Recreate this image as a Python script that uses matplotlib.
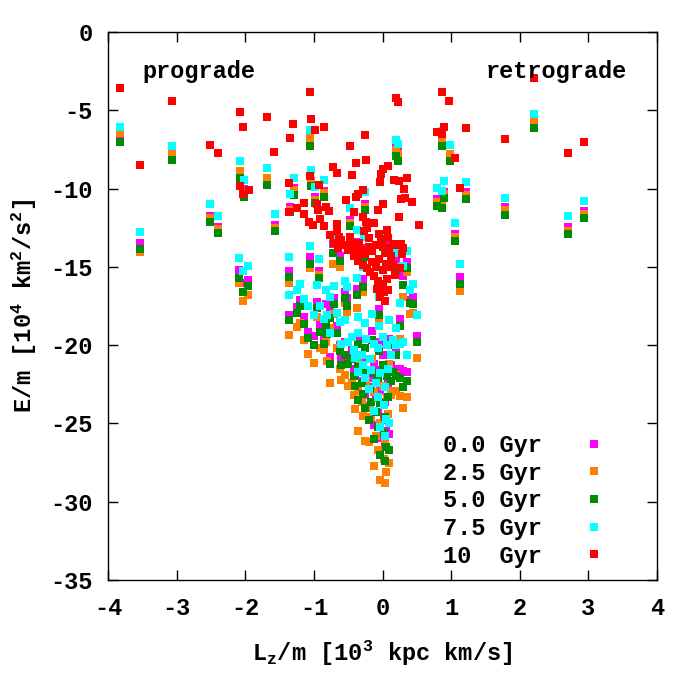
import matplotlib
matplotlib.use('Agg')
import matplotlib.pyplot as plt

# L_z/m per star [10^3 kpc km/s], shared by the 0.0 - 7.5 Gyr snapshots
lz = [-3.82, -3.54, -3.07, -2.52, -2.39, -2.07, -2.02, -1.68, -1.57, -2.09,
      -2.03, -1.96, -1.35, -1.29, -1.36, -1.36, -1.05, -1.04, -1.06, -0.92,
      2.21, 0.87, 0.99, 0.90, 0.80, 0.86, 1.22, 1.78, 2.70, 2.93,
      1.06, 1.13, 0.20, 0.23, -0.85, -0.98, -0.25, -0.47,
      -0.72, -0.62, -0.37, -0.27, 0.04, 0.20, 0.35, 0.30, 0.44, -0.28,
      -0.55, -0.52, -0.37, -0.05, 0.25, 0.40, 0.50,
      -1.24, -1.14, -1.08, -1.00, -0.95, -0.91, -0.85, -0.77, -1.20, -0.70,
      -0.77, -0.82,
      -0.81, -0.67, -0.62, -0.55, -0.45, -0.35, -0.25, -0.15, -0.05, 0.10,
      0.20,
      -0.50, -0.42, -0.36, -0.30, -0.24, -0.18, -0.12, -0.06, 0.00, 0.06,
      0.12, -0.40, -0.28, 0.16, -0.60,
      -0.35, -0.25, -0.17, -0.10, -0.03, 0.03, 0.08, -0.20, -0.07, 0.02,
      -0.13, 0.05, -0.04, 0.04, 0.09,
      0.30, 0.26, 0.35, 0.20]

# E/m [10^4 km^2/s^2] at 0.0 Gyr
e_00 = [-6.70, -13.45, -7.98, -11.74, -12.45, -9.15, -10.05, -9.55, -12.34, -15.20,
        -16.00, -15.84, -11.17, -9.97, -15.26, -18.07, -6.95, -9.50, -14.35, -15.26,
        -5.90, -7.10, -8.00, -10.20, -10.68, -10.80, -10.24, -11.20, -12.47, -11.45,
        -12.92, -15.66, -7.30, -7.60, -10.17, -10.56, -11.00, -12.03,
        -13.56, -14.30, -13.40, -13.80, -13.60, -14.60, -14.70, -15.60, -16.90, -15.80,
        -16.60, -17.00, -16.40, -17.70, -18.35, -17.10, -19.43,
        -17.58, -18.20, -19.14, -19.40, -17.22, -18.70, -19.56, -17.86, -17.10, -17.00,
        -20.73, -17.40,
        -18.90, -18.80, -20.00, -19.80, -20.30, -19.40, -19.60, -19.10, -19.80, -19.60,
        -20.20,
        -20.70, -21.50, -20.80, -21.70, -20.90, -22.10, -21.20, -21.60, -20.60, -21.40,
        -21.30, -22.00, -22.30, -21.50, -20.80,
        -22.80, -23.20, -22.70, -23.40, -22.90, -23.60, -22.40, -23.90, -24.30, -24.80,
        -25.10, -25.50, -25.90, -26.20, -25.70,
        -21.65, -21.50, -21.70, -21.60]

# 2.5 Gyr
e_25 = [-6.45, -14.05, -7.75, -11.90, -12.60, -8.89, -10.26, -9.34, -12.50, -16.05,
        -17.18, -16.80, -11.34, -10.09, -16.05, -19.37, -6.78, -9.60, -15.09, -15.50,
        -5.66, -6.85, -7.81, -10.35, -10.85, -10.95, -10.40, -11.40, -12.70, -11.60,
        -13.10, -16.56, -7.54, -7.80, -10.30, -10.70, -11.15, -12.20,
        -14.80, -15.00, -13.70, -14.10, -13.90, -15.00, -15.30, -16.90, -17.95, -16.60,
        -17.30, -17.90, -17.60, -18.50, -19.60, -18.00, -20.85,
        -18.81, -19.66, -20.56, -21.15, -18.22, -20.19, -20.30, -18.90, -18.60, -18.00,
        -22.40, -19.80,
        -21.00, -20.20, -21.50, -21.90, -22.40, -21.10, -21.60, -20.90, -21.80, -21.20,
        -21.90,
        -22.60, -23.20, -22.90, -23.60, -22.30, -24.00, -23.00, -23.40, -22.60, -23.30,
        -23.20, -24.10, -24.50, -22.90, -22.20,
        -25.50, -26.10, -24.60, -25.80, -25.00, -26.00, -24.40, -26.20, -26.70, -27.30,
        -27.70, -28.10, -28.60, -28.80, -27.50,
        -23.99, -23.25, -23.30, -22.90]

# 5.0 Gyr
e_50 = [-7.00, -13.87, -8.20, -12.14, -12.82, -9.32, -10.57, -9.74, -12.74, -15.69,
        -16.60, -16.22, -11.51, -10.43, -15.67, -18.39, -7.29, -9.86, -14.84, -15.73,
        -6.15, -7.30, -8.24, -10.60, -11.11, -11.24, -10.68, -11.70, -12.92, -11.88,
        -13.37, -16.11, -7.92, -8.24, -10.56, -10.94, -11.39, -12.40,
        -14.10, -14.60, -13.90, -14.35, -14.10, -15.20, -15.10, -16.15, -17.38, -16.30,
        -17.00, -17.50, -16.80, -18.10, -18.80, -17.30, -19.82,
        -17.92, -18.66, -19.56, -19.98, -17.64, -19.13, -19.92, -18.29, -17.50, -17.40,
        -21.20, -18.70,
        -19.30, -19.20, -20.40, -20.60, -20.90, -19.90, -20.20, -19.70, -20.40, -20.00,
        -20.60,
        -21.20, -22.00, -21.40, -22.40, -21.60, -22.80, -21.80, -22.10, -21.30, -22.00,
        -22.30, -22.60, -23.10, -21.70, -21.30,
        -23.50, -24.00, -23.60, -24.30, -23.70, -24.60, -23.30, -24.80, -25.20, -25.60,
        -26.00, -26.50, -27.00, -27.40, -26.70,
        -22.68, -22.08, -22.30, -22.00]

# 7.5 Gyr
e_75 = [-6.05, -12.76, -7.29, -10.97, -11.77, -8.23, -9.46, -8.66, -11.62, -14.45,
        -15.29, -14.95, -10.37, -9.32, -14.39, -16.80, -6.27, -8.80, -13.67, -14.50,
        -5.26, -6.30, -7.24, -9.54, -9.98, -10.17, -9.60, -10.62, -11.77, -10.81,
        -12.22, -14.83, -6.90, -7.15, -9.47, -9.90, -10.24, -11.26,
        -13.00, -13.50, -12.65, -13.10, -12.96, -14.10, -13.96, -14.96, -16.07, -15.00,
        -15.90, -16.30, -15.70, -16.90, -17.30, -16.50, -18.10,
        -16.47, -17.05, -17.50, -18.07, -16.15, -17.49, -18.30, -16.90, -16.10, -16.20,
        -19.20, -16.47,
        -18.10, -17.97, -18.50, -18.40, -19.46, -18.20, -18.60, -18.00, -18.80, -18.40,
        -18.90,
        -19.80, -20.30, -19.20, -20.60, -19.60, -20.90, -19.90, -20.20, -19.50, -20.00,
        -20.60, -20.80, -21.30, -19.70, -19.90,
        -21.70, -22.10, -21.60, -22.40, -21.80, -22.70, -21.50, -22.80, -23.30, -23.80,
        -24.20, -24.70, -25.20, -25.80, -25.00,
        -19.80, -19.90, -20.60, -20.00]

# 10 Gyr snapshot
lz_10 = [-3.82, -3.54, -3.07, -2.52, -2.39, -2.07, -2.03, -1.68, -1.58, -1.30,
         -1.35, -2.07, -1.95, -2.03, -1.36, -1.36, -1.24, -1.14, -1.14, -1.05,
         0.20, 0.23, 0.87, 0.97, -1.04, -0.85, -0.98, -0.25, 0.90, 0.80,
         0.86, 1.22, 2.21, 1.06, 1.78, 2.70, 2.93, 1.13, 0.53, -0.47,
         -0.38, -0.24, -0.72, -0.67, -0.45, -1.05, -0.92, 0.00, 0.08, -0.02,
         -0.03, 0.17, 0.24, 0.36, 0.32, 0.27, 0.33, 0.43, 0.24, -0.95,
         -0.94, -0.82, -0.78, -0.53, -0.38, -0.35, -0.28, -0.41, -0.06, 0.01,
         -0.91, -1.07, -1.01, -0.85, -0.66, -0.29, -0.24, -0.12, 0.06, -0.22,
         -0.27, -0.76, -0.66, -0.63, -0.70, -0.48, -0.43, -0.34, -0.19, -0.05,
         -0.02, 0.08, 0.16, 0.27, 0.30,
         -0.60, -0.55, -0.50, -0.40, -0.36, -0.30, -0.25, -0.20, -0.15, -0.10,
         0.00, 0.05, 0.10, 0.20, 0.12, -0.35, -0.28, -0.22, -0.15, -0.10,
         -0.05, 0.00, 0.05, 0.12, 0.18, -0.12, -0.06, 0.00, 0.06, -0.08,
         0.02, -0.03, 0.04, 0.08, -0.18, 0.28, -0.65, -0.42, 0.16, 0.25]
e_10 = [-3.57, -8.47, -4.40, -7.19, -7.70, -5.14, -6.05, -5.46, -7.64, -5.90,
        -6.74, -9.81, -10.11, -10.35, -9.65, -11.52, -11.26, -10.94, -11.62, -3.85,
        -4.19, -4.49, -3.85, -4.42, -5.58, -6.09, -6.28, -6.60, -6.09, -6.41,
        -6.53, -6.15, -2.96, -8.07, -6.85, -7.75, -7.04, -9.96, -12.35, -7.30,
        -8.39, -8.19, -8.64, -9.02, -9.15, -9.21, -9.79, -8.77, -8.58, -9.09,
        -9.60, -9.47, -9.53, -9.34, -10.04, -10.68, -10.62, -10.87, -11.83, -11.00,
        -11.39, -11.19, -11.45, -10.75, -10.56, -10.36, -10.11, -11.51, -11.39, -11.00,
        -11.96, -12.15, -12.34, -12.41, -12.28, -11.83, -12.15, -12.22, -12.66, -12.54,
        -12.73, -12.98, -12.73, -13.11, -13.49, -13.11, -13.49, -13.49, -13.17, -12.92,
        -13.24, -13.17, -13.56, -13.56, -13.80,
        -13.30, -13.60, -13.90, -13.80, -14.10, -13.90, -14.20, -13.70, -14.00, -13.60,
        -13.70, -14.10, -13.80, -13.60, -14.30, -14.60, -14.90, -15.10, -14.70, -15.00,
        -14.50, -15.20, -14.80, -15.00, -15.50, -15.60, -15.90, -16.10, -15.80, -16.40,
        -16.60, -16.90, -17.20, -16.50, -15.30, -14.20, -13.80, -14.30, -14.80, -15.10]

labels = ['0.0 Gyr', '2.5 Gyr', '5.0 Gyr', '7.5 Gyr', '10  Gyr']
colors = ['#ff00ff', '#ff8000', '#008c00', '#00ffff', '#ff0000']

plt.rcParams['font.family'] = ['Liberation Mono', 'DejaVu Sans Mono']
plt.rcParams['font.weight'] = 'bold'
plt.rcParams['axes.labelweight'] = 'bold'
plt.rcParams['font.size'] = 17
plt.rcParams['mathtext.default'] = 'regular'
plt.rcParams['axes.unicode_minus'] = False

fig = plt.figure(figsize=(7, 7), dpi=100)
ax = fig.add_axes([108 / 700, 1 - 580 / 700, 549 / 700, 548 / 700])

series = [(lz, e_00), (lz, e_25), (lz, e_50), (lz, e_75), (lz_10, e_10)]
for (x, y), c, lab in zip(series, colors, labels):
    ax.plot(x, y, ls='none', marker='s', ms=5.4, mew=0, color=c, label=lab)

ax.set_xlim(-4, 4)
ax.set_ylim(-35, 0)
ax.set_xticks(range(-4, 5))
ax.set_yticks(range(-35, 1, 5))
ax.tick_params(direction='in', length=7.5, width=1, top=True, right=True)
ax.tick_params(axis='x', pad=12)
ax.tick_params(axis='y', pad=11)
for s in ax.spines.values():
    s.set_linewidth(1)

ax.set_xlabel('L$_z$/m [10$^3$ kpc km/s]', labelpad=14)
ax.set_ylabel('E/m [10$^4$ km$^2$/s$^2$]', labelpad=8)

ax.text(-2.67, -2.55, 'prograde', ha='center', va='center')
ax.text(2.54, -2.55, 'retrograde', ha='center', va='center')

ax.legend(loc='lower right', bbox_to_anchor=(0.962, -0.012), frameon=False,
          markerfirst=False, handlelength=2.0, handletextpad=1.2,
          labelspacing=0.2, borderpad=0.3)

fig.savefig('out.png', dpi=100)
